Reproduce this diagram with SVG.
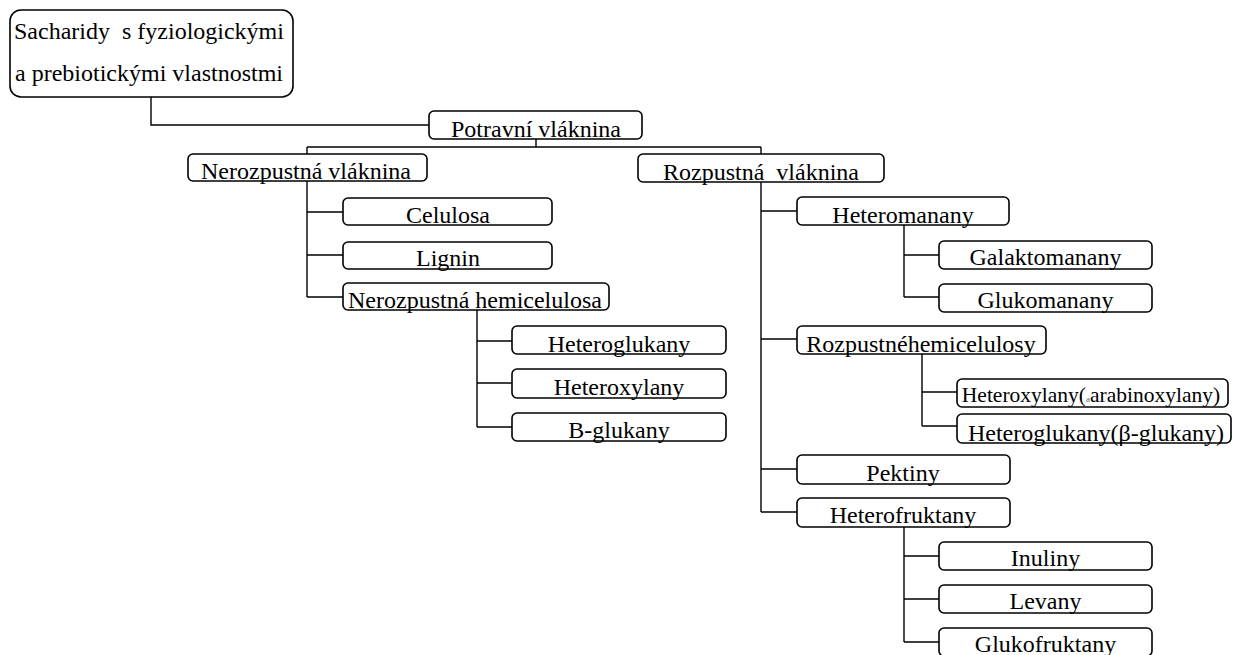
<svg xmlns="http://www.w3.org/2000/svg" width="1236" height="655" viewBox="0 0 1236 655">
<style>
.box{fill:#fff;stroke:#000;stroke-width:1.6}
.t{font-family:'Liberation Serif','Times New Roman','DejaVu Serif',serif;font-size:24px;fill:#000;text-anchor:middle;white-space:pre}
.c{fill:none;stroke:#000;stroke-width:1.4}
</style>
<rect width="1236" height="655" fill="#fff"/>
<g id="connectors" class="c">
<path d="M151 97V125H429"/>
<path d="M536 139V147M307 147H761M307 147V154M761 147V154"/>
<path d="M307 181V297M307 212H343M307 255H343M307 297H343"/>
<path d="M477 310V427M477 341H512M477 383H512M477 427H512"/>
<path d="M761 182V512M761 211H797M761 339H797M761 469H797M761 512H797"/>
<path d="M904 225V297M904 255H939M904 297H939"/>
<path d="M922 354V426M922 392H957M922 426H957"/>
<path d="M904 527V642M904 556H939M904 599H939M904 642H939"/>
</g>
<g font-family="Liberation Serif, serif">
<g id="n-root"><rect class="box" x="10" y="10" width="283" height="87" rx="11"/><text class="t" x="149" y="39">Sacharidy  s fyziologickými</text><text class="t" x="149" y="81">a prebiotickými vlastnostmi</text></g>
<g id="n-potravni"><rect class="box" x="429" y="111" width="213" height="28" rx="5"/><text class="t" x="536" y="137">Potravní vláknina</text></g>
<g id="n-nerozpustna"><rect class="box" x="188" y="154" width="239" height="27" rx="5"/><text class="t" x="306" y="179">Nerozpustná vláknina</text></g>
<g id="n-rozpustna"><rect class="box" x="638" y="154" width="246" height="28" rx="5"/><text class="t" x="761" y="180">Rozpustná  vláknina</text></g>
<g id="n-celulosa"><rect class="box" x="343" y="198" width="209" height="27" rx="5"/><text class="t" x="448" y="223">Celulosa</text></g>
<g id="n-lignin"><rect class="box" x="343" y="242" width="209" height="27" rx="5"/><text class="t" x="448" y="266">Lignin</text></g>
<g id="n-nerhemi"><rect class="box" x="343" y="283" width="266" height="27" rx="5"/><text class="t" x="475" y="308">Nerozpustná hemicelulosa</text></g>
<g id="n-heteroglukany"><rect class="box" x="512" y="326" width="214" height="28" rx="5"/><text class="t" x="619" y="352">Heteroglukany</text></g>
<g id="n-heteroxylany"><rect class="box" x="512" y="369" width="214" height="29" rx="5"/><text class="t" x="619" y="395">Heteroxylany</text></g>
<g id="n-bglukany"><rect class="box" x="512" y="413" width="214" height="28" rx="5"/><text class="t" x="619" y="438">B-glukany</text></g>
<g id="n-heteromanany"><rect class="box" x="797" y="197" width="212" height="28" rx="5"/><text class="t" x="903" y="223">Heteromanany</text></g>
<g id="n-galaktomanany"><rect class="box" x="939" y="241" width="213" height="28" rx="5"/><text class="t" x="1045.5" y="265">Galaktomanany</text></g>
<g id="n-glukomanany"><rect class="box" x="939" y="284" width="213" height="28" rx="5"/><text class="t" x="1045.5" y="308">Glukomanany</text></g>
<g id="n-rozhemi"><rect class="box" x="797" y="326" width="249" height="28" rx="5"/><text class="t" x="921" y="352">Rozpustnéhemicelulosy</text></g>
<g id="n-arabinoxylany"><rect class="box" x="957" y="379" width="271" height="28" rx="5"/><text class="t" x="1091" y="402" style="font-size:21.5px">Heteroxylany(<tspan style="font-size:9px" fill="#666">a</tspan>arabinoxylany)</text></g>
<g id="n-betaglukany"><rect class="box" x="957" y="414" width="274" height="29" rx="5"/><text class="t" x="1096" y="441">Heteroglukany(β-glukany)</text></g>
<g id="n-pektiny"><rect class="box" x="797" y="455" width="213" height="29" rx="5"/><text class="t" x="903" y="481">Pektiny</text></g>
<g id="n-heterofruktany"><rect class="box" x="797" y="498" width="213" height="29" rx="5"/><text class="t" x="903" y="523">Heterofruktany</text></g>
<g id="n-inuliny"><rect class="box" x="939" y="542" width="213" height="28" rx="5"/><text class="t" x="1045.5" y="566">Inuliny</text></g>
<g id="n-levany"><rect class="box" x="939" y="585" width="213" height="28" rx="5"/><text class="t" x="1045.5" y="609">Levany</text></g>
<g id="n-glukofruktany"><rect class="box" x="939" y="628" width="213" height="28" rx="5"/><text class="t" x="1045.5" y="652">Glukofruktany</text></g>
</g>
</svg>
